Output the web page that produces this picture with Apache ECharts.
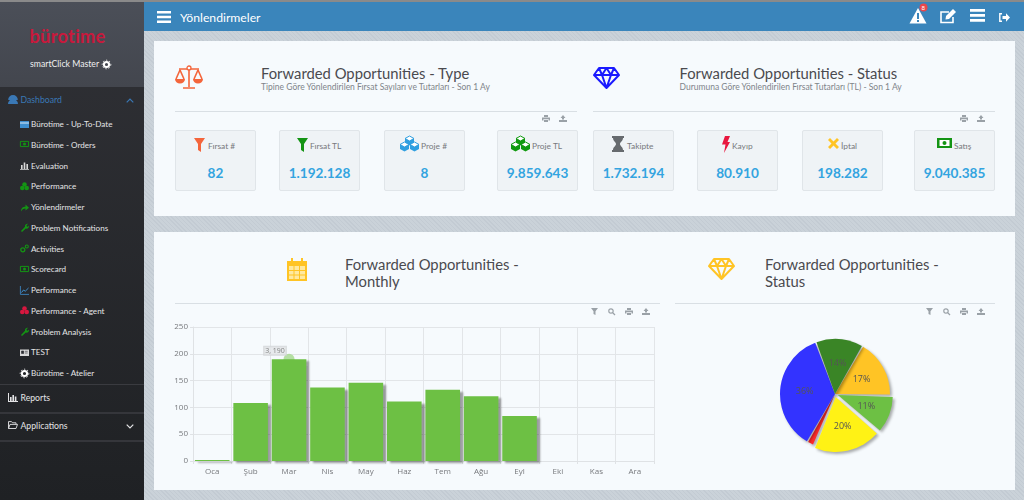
<!DOCTYPE html>
<html>
<head>
<meta charset="utf-8">
<title>Yönlendirmeler</title>
<script src="https://cdn.jsdelivr.net/npm/echarts@6/dist/echarts.min.js"></script>
<style>
html,body{margin:0;padding:0;width:1024px;height:500px;overflow:hidden;background:#c6ced5;font-family:Lato,"Open Sans",sans-serif}
#page{position:absolute;left:0;top:0;width:1024px;height:500px;overflow:hidden;
 background:repeating-linear-gradient(45deg,#c3cbd3 0 1px,#cad2d9 1px 3px)}
.abs{position:absolute;white-space:nowrap}
#topline{left:0;top:0;width:1024px;height:2px;background:#8a8a8a}
#side{left:0;top:2px;width:144px;height:498px;background:linear-gradient(#303136,#1f2124)}
#sidetop{left:0;top:2px;width:144px;height:85px;background:linear-gradient(#4b4f58,#43464e)}
#head{left:144px;top:2px;width:880px;height:29px;background:#3a85bb}
.card{position:absolute;background:#f6fafd}
.title{font-size:14.8px;color:#4a4a4f;line-height:17px}
.sub{font-size:8.5px;color:#80848a}
.rule{height:1px;background:#d9dfe4}
.kpi{position:absolute;top:130px;width:79px;height:59px;background:#eff3f6;border:1px solid #e0e5e9;border-radius:2px}
.kpilabel{position:absolute;font-size:8.4px;color:#77797d;line-height:10px}
.kpival{position:absolute;text-align:center;width:81px;font-size:13.6px;font-weight:700;color:#33a4e0;line-height:17px}
.menu{font-size:8.7px;color:#e4e4e6;line-height:12px}
.submenu{font-size:8.1px;color:#e4e4e6;line-height:12px}
svg{position:absolute;overflow:visible}
</style>
</head>
<body>
<div id="page">
  <div class="abs" id="side"></div>
  <div class="abs" id="sidetop"></div>
  <div class="abs" id="topline"></div>
  <div class="abs" id="head"></div>
  <div class="card" style="left:154px;top:41px;width:861px;height:175px"></div>
  <div class="card" style="left:154px;top:232px;width:861px;height:258px"></div>
  <div id="chrome"></div>
  <div id="barChart" class="abs" style="left:165px;top:315px;width:500px;height:170px"></div>
  <div id="pieChart" class="abs" style="left:760px;top:325px;width:150px;height:140px"></div>
</div>
<script>
// aylik grafik
var months = ['Oca','Şub','Mar','Nis','May','Haz','Tem','Ağu','Eyl','Eki','Kas','Ara'];
var monthlyValues = [2,108,190,137,146,111,133,121,84,0,0,0];
var hoverMonth = 'Mar';
var hoverValue = 190;
var hoverText = '3, 190';
// durum pastasi, saat yonunde
var statusShares = [17,11,20,2,36,14];
var statusColors = ['#ffc425','#6dc044','#fff215','#ff2a2a','#3333ff','#3a8526'];
var statusPulled = [false,true,true,false,false,false];
// kutular
var typeLabels = ['Fırsat #','Fırsat TL','Proje #','Proje TL'];
var typeValues = ['82','1.192.128','8','9.859.643'];
var statusLabels = ['Takipte','Kayıp','İptal','Satış'];
var statusValues = ['1.732.194','80.910','198.282','9.040.385'];
// menu
var menuItems = ['Bürotime - Up-To-Date','Bürotime - Orders','Evaluation','Performance','Yönlendirmeler','Problem Notifications','Activities','Scorecard','Performance','Performance - Agent','Problem Analysis','TEST','Bürotime - Atelier'];
var menuIcons = ['card','money','bars','cubes','arrow','wrench','gears','money','line','cubes','wrench','id','gear'];
var menuColors = ['#3f8fd0','#149414','#d8d8d8','#149414','#149414','#149414','#149414','#149414','#3f8fd0','#d8173f','#149414','#d8d8d8','#ffffff'];

var html = '';
function add(s){ html += s; }
function text(x,y,cls,str,style){
    add('<div class="abs '+cls+'" style="left:'+x+'px;top:'+y+'px;'+(style||'')+'">'+str+'</div>');
}
function icon(x,y,w,h,body){
    add('<svg style="left:'+x+'px;top:'+y+'px" width="'+w+'" height="'+h+'" viewBox="0 0 '+w+' '+h+'">'+body+'</svg>');
}
function cubes(x,y,c){
    function box(a,b){
        return '<path d="M'+a+' '+(b+2.5)+'l4.5-2.5 4.5 2.5-4.5 2.5z" fill="#fff" stroke="'+c+'"/><path d="M'+a+' '+(b+2.5)+'v4.5l4.5 2.5v-4.5z M'+(a+9)+' '+(b+2.5)+'v4.5l-4.5 2.5v-4.5z" fill="'+c+'"/>';
    }
    icon(x,y,20,16,box(5,0)+box(0,6)+box(10,6));
}
function printer(x,y){ icon(x,y,8,7,'<path d="M2 0h4v2H2z M0 2.5h8v3H6.5V4h-5v1.5H0z M2 4.8h4V7H2z" fill="#9aa1a7"/>'); }
function upload(x,y){ icon(x,y,8,7,'<path d="M4 0l2.5 3H5v1.5H3V3H1.5z M0 5h8v2H0z" fill="#9aa1a7"/>'); }
function funnelSmall(x,y){ icon(x,y,7,7,'<path d="M0 0h7L4.5 3.2V7L2.5 6V3.2z" fill="#9aa1a7"/>'); }
function lens(x,y){ icon(x,y,7,7,'<circle cx="3" cy="3" r="2.2" fill="none" stroke="#9aa1a7" stroke-width="1.2"/><path d="M4.5 4.5L7 7" stroke="#9aa1a7" stroke-width="1.3"/>'); }
function diamond(x,y,c){
    icon(x,y,27,22,'<path d="M6 1h15l5 7-12.5 13L1 8z M1 8h25 M9 8l4.5 13L18 8 M6 1l3 7 4.5-7 4.5 7 3-7" fill="none" stroke="'+c+'" stroke-width="2" stroke-linejoin="round"/>');
}
function menuGlyph(kind,c){
    if (kind=='card') return '<path d="M0 1h9v7H0z" fill="'+c+'"/><path d="M0 3h9" stroke="#fff" stroke-width=".8"/>';
    if (kind=='money') return '<path d="M.4 1.400h8.200v5.200H.4z" fill="none" stroke="'+c+'" stroke-width="1"/><circle cx="4.500" cy="4" r="1.500" fill="'+c+'"/>';
    if (kind=='bars') return '<path d="M0 8h9v.8H0z M1 4h1.600v4H1z M3.700 1.500h1.600V8H3.700z M6.400 3h1.600v5H6.400z" fill="'+c+'"/>';
    if (kind=='cubes') return '<circle cx="4.500" cy="2.500" r="2.300" fill="'+c+'"/><circle cx="2.300" cy="6" r="2.300" fill="'+c+'"/><circle cx="6.700" cy="6" r="2.300" fill="'+c+'"/>';
    if (kind=='arrow') return '<path d="M1 8.500C1 5 3 3.800 5.500 3.800V1.500L9 4.700 5.500 7.500V5.500C3.500 5.500 2 6.500 1 8.500z" fill="'+c+'"/>';
    if (kind=='wrench') return '<path d="M1 8l4-4.200a2.500 2.500 0 0 1 3-3L6.500 2.400l.3 1.100 1.100.3L9 2.500a2.500 2.500 0 0 1-3.200 3L2 9z" fill="'+c+'"/>';
    if (kind=='gears') return '<circle cx="2.800" cy="5.800" r="2" fill="none" stroke="'+c+'" stroke-width="1.300"/><circle cx="6.800" cy="2.500" r="1.500" fill="none" stroke="'+c+'" stroke-width="1.100"/>';
    if (kind=='line') return '<path d="M.4 0v8.400H9" fill="none" stroke="'+c+'" stroke-width=".8"/><path d="M1.500 6.500l2-2.500 1.800 1.200L8.500 2" fill="none" stroke="'+c+'" stroke-width="1"/>';
    if (kind=='id') return '<path d="M0 1.500h9v6.500H0z" fill="'+c+'"/><path d="M1.500 3h2.200v2.500H1.500z M5 3.300h2.700 M5 5h2.700" fill="#2c2d32" stroke="#2c2d32" stroke-width=".6"/>';
    return '<circle cx="4.500" cy="4.500" r="2.600" fill="none" stroke="'+c+'" stroke-width="2"/><circle cx="4.500" cy="4.500" r="4.300" fill="none" stroke="'+c+'" stroke-width="1" stroke-dasharray="1.300 1.900"/>';
}

// ust menu cubugu
icon(157,11,14,12,'<path d="M0 0h14v2.400H0z M0 4.800h14v2.400H0z M0 9.600h14V12H0z" fill="#fff"/>');
text(180,11,'','Yönlendirmeler','font-size:12.2px;color:#fff;line-height:14px');
icon(909,8,18,16,'<path d="M9 0l8.500 15.500H.5z" fill="#fff"/><path d="M8 5h2v6H8z M8 12h2v2H8z" fill="#3a85bb"/>');
icon(919,3,9,9,'<circle cx="4.500" cy="4.500" r="4" fill="#e8474c"/>');
text(921.5,4,'','8','font-size:6px;color:#fff;line-height:7px');
icon(940,9,17,15,'<path d="M13 8v5.500H1V3h8" fill="none" stroke="#fff" stroke-width="1.600"/><path d="M6 7l7-7 3 3-7 7-3.500.6z" fill="#fff"/>');
icon(970,9,15,13,'<path d="M0 0h15v2.800H0z M0 5h15v2.800H0z M0 10h15v2.800H0z" fill="#fff"/>');
icon(999,13,11,9,'<path d="M3 .8H.8v7.400H3" fill="none" stroke="#fff" stroke-width="1.400"/><path d="M3.500 3H7V.3l4 4.200-4 4.200V6H3.500z" fill="#fff"/>');

// sol menu
text(29.5,25,'','bürotime','font-size:18.2px;color:#c8193c;line-height:22px;letter-spacing:.3px;font-weight:700');
text(30,58,'menu','smartClick Master','color:#f0f0f0');
icon(102,60,9,9,menuGlyph('gear','#fff'));
icon(8,95,10,9,'<path d="M0 9a5 5 0 0 1 10 0z M5 0a4.800 4.800 0 0 1 4.800 5H.2A4.800 4.800 0 0 1 5 0z" fill="#3a78b5"/>');
text(20.5,94,'menu','Dashboard','color:#3a78b5');
icon(126,98,8,5,'<path d="M.7 4.300L4 1l3.300 3.300" fill="none" stroke="#3a78b5" stroke-width="1.200"/>');
for (var i=0;i<menuItems.length;i++){
    var my = 124+i*20.75;
    text(31,my-6,'submenu',menuItems[i]);
    icon(20,my-4.5,9,9,menuGlyph(menuIcons[i],menuColors[i]));
}
add('<div class="abs" style="left:0;top:384px;width:144px;height:1px;background:#3a3b40"></div>');
add('<div class="abs" style="left:0;top:412px;width:144px;height:2px;background:#35363b"></div>');
add('<div class="abs" style="left:0;top:440px;width:144px;height:2px;background:#35363b"></div>');
icon(8,393,10,9,'<path d="M0 0h1v8h9v1H0z M2 4h1.600v4H2z M4.400 2h1.600v6H4.400z M6.800 3.500h1.600V8H6.800z" fill="#e4e4e6"/>');
text(20.5,392,'menu','Reports');
icon(8,421,10,8,'<path d="M.5 7.500V.6h3l1 1.200h3.500v1.400 M.5 7.500L2 3.400h7.500L8 7.500z" fill="none" stroke="#e4e4e6" stroke-width=".9"/>');
text(20.5,420,'menu','Applications');
icon(126,424,8,5,'<path d="M.7.7L4 4l3.300-3.300" fill="none" stroke="#e4e4e6" stroke-width="1.200"/>');

// ust kart
icon(175,65,28,24,'<path d="M14 2v20 M8 23h12 M4 4h20 M5 5L1 14 M5 5l4 9 M23 5l-4 9 M23 5l4 9" fill="none" stroke="#f4653b" stroke-width="1.600"/><circle cx="14" cy="3" r="2" fill="#f6fafd" stroke="#f4653b" stroke-width="1.300"/><path d="M0 14h10a5 4.500 0 0 1-10 0z M18 14h10a5 4.500 0 0 1-10 0z" fill="#f4653b"/>');
text(261,65,'title','Forwarded Opportunities - Type');
text(261,82,'sub','Tipine Göre Yönlendirilen Fırsat Sayıları ve Tutarları - Son 1 Ay');
diamond(593,67,'#1a1aff');
text(679.5,65,'title','Forwarded Opportunities - Status');
text(679.5,82,'sub','Durumuna Göre Yönlendirilen Fırsat Tutarları (TL) - Son 1 Ay');
add('<div class="abs rule" style="left:175px;top:111px;width:402px"></div>');
add('<div class="abs rule" style="left:593px;top:111px;width:402px"></div>');
printer(542,115); upload(559,115); printer(960,115); upload(977,115);

var typeX = [175,279,384,497];
var statusX = [593,697,802,914];
var typeLabelX = [208,310,421,532];
var statusLabelX = [627,732,841,954];
for (var j=0;j<4;j++){
    add('<div class="kpi" style="left:'+typeX[j]+'px"></div><div class="kpi" style="left:'+statusX[j]+'px"></div>');
    text(typeLabelX[j],141,'kpilabel',typeLabels[j]);
    text(statusLabelX[j],141,'kpilabel',statusLabels[j]);
    text(typeX[j],165,'kpival',typeValues[j]);
    text(statusX[j],165,'kpival',statusValues[j]);
}
icon(194,138,11,14,'<path d="M0 0h11L7 6v8L4 12V6z" fill="#f4653b"/>');
icon(297,138,11,14,'<path d="M0 0h11L7 6v8L4 12V6z" fill="#149414"/>');
cubes(400,136,'#2f9fe0');
cubes(511,136,'#0f9a0f');
icon(612,136,12,16,'<path d="M0 0h12v2h-1c0 3-3 4-3 6s3 3 3 6h1v2H0v-2h1c0-3 3-4 3-6S1 5 1 2H0z" fill="#666a6e"/>');
icon(722,136,8,17,'<path d="M3 0h5L5.500 6H8L2 17l1.500-8.500H0z" fill="#e8173f"/>');
icon(828,138,11,11,'<path d="M2 0l3.500 3.500L9 0l2 2-3.500 3.500L11 9l-2 2-3.500-3.500L2 11 0 9l3.500-3.500L0 2z" fill="#ffc425"/>');
icon(937,138,15,10,'<path d="M0 0h15v10H0z" fill="#149414"/><path d="M2.500 2h10v6h-10z" fill="#fff"/><circle cx="7.500" cy="5" r="2" fill="#149414"/>');

// alt kart
icon(286,258,22,23,'<path d="M1 3h20v20H1z" fill="#ffc425"/><path d="M3 8h16v13H3z" fill="#ffe9a0"/><path d="M8 8v13 M13.500 8v13 M3 12.500h16 M3 17h16" stroke="#ffc425"/><path d="M6 0v5 M16 0v5" stroke="#ffc425" stroke-width="2"/>');
text(345,256,'title','Forwarded Opportunities -');
text(345,273,'title','Monthly');
diamond(708,258,'#ffc425');
text(765,256,'title','Forwarded Opportunities -');
text(765,273,'title','Status');
add('<div class="abs rule" style="left:175px;top:303px;width:485px"></div>');
add('<div class="abs rule" style="left:675px;top:303px;width:320px"></div>');
funnelSmall(591,308); lens(608,308); printer(625,308); upload(642,308);
funnelSmall(926,308); lens(943,308); printer(960,308); upload(977,308);
document.getElementById('chrome').innerHTML = html;

var barOption = {
    animation: false,
    grid: { left: 28, right: 11, top: 12, bottom: 24 },
    xAxis: [{
        type: 'category',
        data: months,
        axisLine: { lineStyle: { color: '#dfe2e5' } },
        axisTick: { show: true, length: 3, lineStyle: { color: '#dfe2e5' } },
        axisLabel: { color: '#77797d', fontSize: 8, fontFamily: 'Open Sans', margin: 7 },
        splitLine: { show: true, lineStyle: { color: '#e2e5e8' } }
    }],
    yAxis: [{
        type: 'value',
        min: 0,
        max: 250,
        interval: 50,
        axisLine: { show: true, lineStyle: { color: '#dfe2e5' } },
        axisTick: { show: true, length: 3, lineStyle: { color: '#dfe2e5' } },
        axisLabel: { color: '#77797d', fontSize: 8, fontFamily: 'Open Sans', margin: 5 },
        splitLine: { lineStyle: { color: '#e2e5e8' } }
    }],
    series: [{
        name: 'hover',
        type: 'scatter',
        z: 1,
        symbolSize: 11,
        itemStyle: { color: '#a4d88c' },
        label: {
            show: true,
            position: 'top',
            offset: [-14, 6],
            formatter: hoverText,
            color: '#666',
            fontSize: 7,
            fontFamily: 'Open Sans',
            backgroundColor: '#e4e6e8',
            borderColor: '#d0d2d4',
            borderWidth: 1,
            padding: [1, 1, 0, 1]
        },
        data: [[hoverMonth, hoverValue]]
    }, {
        name: 'Monthly',
        type: 'bar',
        z: 2,
        barWidth: '90%',
        barGap: '-100%',
        itemStyle: {
            color: '#6dc044',
            shadowColor: 'rgba(0,0,0,0.38)',
            shadowBlur: 2,
            shadowOffsetX: 3,
            shadowOffsetY: 2
        },
        data: monthlyValues
    }]
};
var barChart = echarts.init(document.getElementById('barChart'));
barChart.setOption(barOption);

var pieData = [];
for (var k=0;k<statusShares.length;k++){
    pieData.push({ value: statusShares[k], selected: statusPulled[k], itemStyle: { color: statusColors[k] } });
}
var pieOption = {
    animation: false,
    series: [{
        type: 'pie',
        center: [75, 69],
        radius: 55,
        startAngle: 60,
        clockwise: true,
        padAngle: 1.5,
        selectedMode: 'multiple',
        selectedOffset: 3,
        avoidLabelOverlap: false,
        itemStyle: {
            shadowColor: 'rgba(0,0,0,0.32)',
            shadowBlur: 3,
            shadowOffsetX: 2,
            shadowOffsetY: 2
        },
        label: {
            show: true,
            position: 'inside',
            color: '#555',
            fontSize: 9,
            fontFamily: 'Open Sans',
            formatter: function (p) { return p.value < 5 ? '' : p.value + '%'; }
        },
        labelLine: { show: false },
        data: pieData
    }]
};
var pieChart = echarts.init(document.getElementById('pieChart'));
pieChart.setOption(pieOption);
</script>
</body>
</html>
